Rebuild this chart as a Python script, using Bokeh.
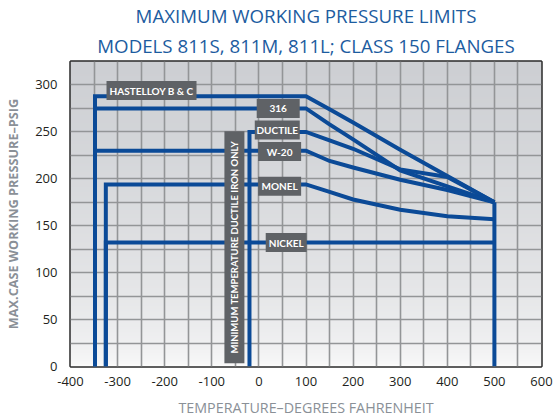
import numpy as np
from bokeh.plotting import figure
from bokeh.models import Title, FixedTicker
from bokeh.core.properties import value
from bokeh.embed import file_html
from bokeh.resources import INLINE

# ---------------- data ----------------
curve_temps = [100, 150, 200, 300, 400, 500]
series_names = ["HASTELLOY B & C", "316", "DUCTILE", "W-20", "MONEL", "NICKEL"]
min_temps = [-348, -348, -20, -348, -325, -325]
hastelloy = [288, 274, 260, 231, 203, 175]
s316 = [275, 258, 242, 209, 192, 175]
ductile = [250, 241, 232, 210, 202, 175]
w20 = [230, 219, 212, 199, 188, 175]
monel = [194, 186, 178, 167, 160, 157]
nickel = [132, 132, 132, 132, 132, 132]
series_values = [hastelloy, s316, ductile, w20, monel, nickel]

x_ticks = [-400, -300, -200, -100, 0, 100, 200, 300, 400, 500, 600]
x_tick_labels = ["-400", "-300", "-200", "-100", "0", "100", "200", "300", "400", "500", "600"]
y_ticks = [0, 50, 100, 150, 200, 250, 300]
y_tick_labels = ["0", "50", "100", "150", "200", "250", "300"]

# label box positions (temperature, psig) and widths (px)
label_x = [-228, 41, 39, 44, 44, 58]
label_y = [294, 275, 252, 229, 192, 132]
label_w = [90, 43, 45, 43, 43, 41]
note_text = "MINIMUM TEMPERATURE DUCTILE IRON ONLY"
note_x, note_y = -52, 127

TITLE1 = "MAXIMUM WORKING PRESSURE LIMITS"
TITLE2 = "MODELS 811S, 811M, 811L; CLASS 150 FLANGES"

BLUE = "#0b4a97"
BOX = "#5f6266"
GRAY_TXT = "#8a9097"

FW, FH = 471, 305
p = figure(frame_width=FW, frame_height=FH, x_range=(-400, 600), y_range=(0, 325),
           output_backend="svg", toolbar_location=None, title=None,
           min_border_left=70, min_border_right=17, min_border_top=60,
           min_border_bottom=54)
p.background_fill_color = "#e2e3e5"
p.border_fill_color = "white"

# gradient background
n = 200
t = np.linspace(0, 1, n)
top = np.array([0xcd, 0xcf, 0xd3])
bot = np.array([0xfb, 0xfb, 0xfb])
f = t ** 0.55
cols = (bot[None, :] * (1 - f[:, None]) + top[None, :] * f[:, None]).astype(np.uint8)
img = np.zeros((n, 1, 4), dtype=np.uint8)
img[:, 0, :3] = cols
img[:, 0, 3] = 255
p.image_rgba(image=[img.view(dtype=np.uint32).reshape(n, 1)], x=-400, y=0, dw=1000, dh=325, level="image")

# grid
p.xgrid.ticker = FixedTicker(ticks=list(range(-400, 601, 50)))
p.ygrid.ticker = FixedTicker(ticks=list(range(0, 326, 25)))
for g in (p.xgrid, p.ygrid):
    g.grid_line_color = "#939597"
    g.grid_line_width = 1.6

# axes
p.xaxis.ticker = FixedTicker(ticks=x_ticks)
p.yaxis.ticker = FixedTicker(ticks=y_ticks)
p.xaxis.major_label_overrides = dict(zip(x_ticks, x_tick_labels))
p.yaxis.major_label_overrides = dict(zip(y_ticks, y_tick_labels))
for ax in (p.xaxis, p.yaxis):
    ax.axis_line_color = None
    ax.major_tick_line_color = None
    ax.minor_tick_line_color = None
    ax.major_tick_in = 0
    ax.major_tick_out = 0
    ax.minor_tick_in = 0
    ax.minor_tick_out = 0
    ax.major_label_text_font = "Open Sans"
    ax.major_label_text_font_size = "13px"
    ax.major_label_text_color = "#231f20"
    ax.axis_label_text_color = GRAY_TXT
    ax.axis_label_text_font = "Open Sans"
p.xaxis.major_label_standoff = 10
p.xaxis.axis_label_standoff = 9
p.xaxis.axis_label = "TEMPERATURE–DEGREES FAHRENHEIT"
p.xaxis.axis_label_text_font_style = "normal"
p.xaxis.axis_label_text_font_size = "14.3px"
p.yaxis.axis_label = "MAX.CASE WORKING PRESSURE–PSIG"
p.yaxis.axis_label_text_font_style = "bold"
p.yaxis.axis_label_text_font_size = "12.7px"
p.yaxis.major_label_standoff = 13
p.yaxis.axis_label_standoff = 10

p.outline_line_color = "#2a2a2a"
p.outline_line_width = 2.5

# titles
p.add_layout(Title(text=TITLE2, align="center", text_font="Open Sans", text_font_size="18.7px",
                   text_font_style="normal", text_color="#1c5ca0", standoff=7), "above")
p.add_layout(Title(text=TITLE1, align="center", text_font="Open Sans", text_font_size="18.7px",
                   text_font_style="normal", text_color="#1c5ca0", standoff=0), "above")

# lines
for tmin, vals in zip(min_temps, series_values):
    xs = [tmin, tmin] + curve_temps
    ys = [0, vals[0]] + vals
    p.line(xs, ys, line_color=BLUE, line_width=4, line_join="miter")
p.line([curve_temps[-1], curve_temps[-1]], [0, max(v[-1] for v in series_values)],
       line_color=BLUE, line_width=4)

# label boxes
p.rect(x=label_x, y=label_y, width=label_w, height=[19] * len(label_x),
       width_units="screen", height_units="screen", fill_color=BOX, line_color=None)
p.text(x=label_x, y=label_y, text=series_names, text_color="white",
       text_font=value("Lato"), text_font_style="bold", text_font_size="10px",
       text_align="center", text_baseline="middle")

p.rect(x=[note_x], y=[note_y], width=[20], height=[232], width_units="screen",
       height_units="screen", fill_color=BOX, line_color=None)
p.text(x=[note_x], y=[note_y], text=[note_text], angle=np.pi / 2, text_color="white",
       text_font=value("Lato"), text_font_style="bold", text_font_size="9.5px",
       text_align="center", text_baseline="middle")

open("out.html", "w").write(file_html(p, INLINE))
